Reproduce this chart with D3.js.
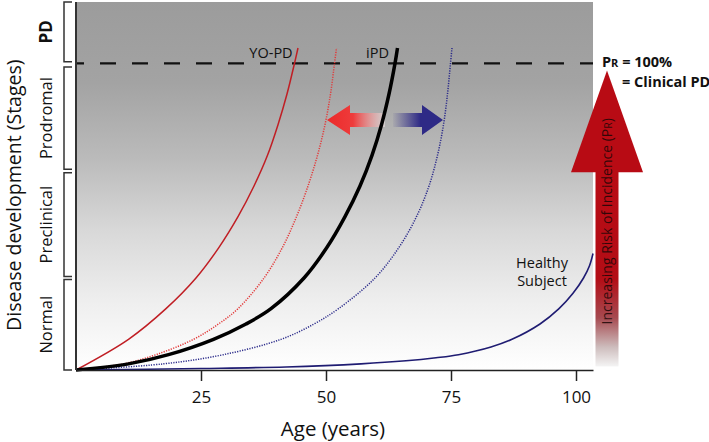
<!DOCTYPE html>
<html>
<head>
<meta charset="utf-8">
<script src="https://cdn.jsdelivr.net/npm/d3@7"></script>
<style>
  body { margin: 0; background: #fff; }
  svg { font-family: "Open Sans", sans-serif; display: block; }
</style>
</head>
<body>
<div id="chart"></div>
<script>
// Ticks and stages
const xTicks = [25, 50, 75, 100];
const stageNames = ["PD", "Prodromal", "Preclinical", "Normal"];
const stageLo = [100.5, 65.5, 30.5, 0];
const stageHi = [120, 98.8, 64.3, 29.5];

// Curves: age (years) vs disease development (100 = clinical PD)
const yoAge = [0, 10.5, 18, 24, 28.6, 32.4, 35.6, 38.3, 40.4, 42.2, 43.7, 44.4];
const yoVal = [0, 10, 20, 30, 40, 50, 60, 70, 80, 90, 100, 105];

const yoDotAge = [0, 9.5, 16, 23.5, 28.5, 32.4, 37.6, 41.3, 44.1, 46.4, 48.3, 49.8, 50.9, 51.7, 52.1];
const yoDotVal = [0, 2, 5, 10, 15, 20, 30, 40, 50, 60, 70, 80, 90, 100, 105];

const ipdAge = [0, 10.5, 18.5, 27.5, 34, 39, 45.6, 50.2, 53.8, 56.8, 59.2, 61.1, 62.6, 63.8, 64.3];
const ipdVal = [0, 2, 5, 10, 15, 20, 30, 40, 50, 60, 70, 80, 90, 100, 105];

const lateAge = [0, 17.5, 29.5, 41, 47.6, 52.5, 59.8, 64.6, 68.1, 70.6, 72.3, 73.5, 74.3, 74.9, 75.2];
const lateVal = [0, 2, 5, 10, 15, 20, 30, 40, 50, 60, 70, 80, 90, 100, 105];

const healthyAge = [0, 25, 42, 57, 66, 72, 76.5, 83, 87.2, 92.8, 96.6, 99.4, 101.5, 102.7, 103.4];
const healthyVal = [0, 0.5, 1, 2, 3, 4, 5, 7.5, 10, 15, 20, 25, 30, 34, 38];

const svg = d3.select("#chart").append("svg")
  .attr("width", 709)
  .attr("height", 442);

const x = d3.scaleLinear().domain([0, 103.4]).range([76, 593]);
const y = d3.scaleLinear().domain([0, 120]).range([370, 2]);

const defs = svg.append("defs");

// background gradient, dark gray at top to white at the bottom
const bg = defs.append("linearGradient").attr("id", "bg")
  .attr("x1", 0).attr("y1", 0).attr("x2", 0).attr("y2", 1);
[[0, "#9c9c9c"], [0.22, "#a3a3a3"], [0.42, "#bababa"], [0.62, "#d8d8d8"], [0.82, "#efefef"], [1, "#ffffff"]]
  .forEach(s => bg.append("stop").attr("offset", s[0]).attr("stop-color", s[1]));

const redGrad = defs.append("linearGradient").attr("id", "redGrad")
  .attr("x1", 0).attr("y1", 0).attr("x2", 1).attr("y2", 0);
redGrad.append("stop").attr("offset", 0).attr("stop-color", "#ec2a2a");
redGrad.append("stop").attr("offset", 0.45).attr("stop-color", "#ee3b3b");
redGrad.append("stop").attr("offset", 1).attr("stop-color", "#e8e0e0").attr("stop-opacity", 0.6);

const blueGrad = defs.append("linearGradient").attr("id", "blueGrad")
  .attr("x1", 0).attr("y1", 0).attr("x2", 1).attr("y2", 0);
blueGrad.append("stop").attr("offset", 0).attr("stop-color", "#2e2a86").attr("stop-opacity", 0.05);
blueGrad.append("stop").attr("offset", 0.55).attr("stop-color", "#2e2a86");
blueGrad.append("stop").attr("offset", 1).attr("stop-color", "#2e2a86");

const bigGrad = defs.append("linearGradient").attr("id", "bigGrad")
  .attr("x1", 0).attr("y1", 0).attr("x2", 0).attr("y2", 1);
[[0, "#b80b14"], [0.55, "#b30d16"], [0.75, "#a64a50"], [0.9, "#cdbcbc"], [1, "#f4f4f4"]]
  .forEach(s => bigGrad.append("stop").attr("offset", s[0]).attr("stop-color", s[1]));

// Plot background
svg.append("rect")
  .attr("x", x(0)).attr("y", y(120))
  .attr("width", x(103.4) - x(0)).attr("height", y(0) - y(120))
  .attr("fill", "url(#bg)");

// Stage brackets
stageNames.forEach((name, i) => {
  const y0 = y(stageLo[i]), y1 = y(stageHi[i]);
  svg.append("path")
    .attr("d", `M72,${y1}H64V${y0}H72`)
    .attr("fill", "none")
    .attr("stroke", "#333")
    .attr("stroke-width", 1.5);
  svg.append("text")
    .attr("transform", `translate(52,${(y0 + y1) / 2}) rotate(-90)`)
    .attr("text-anchor", "middle")
    .attr("font-size", i === 0 ? 17 : 16.5)
    .attr("font-weight", i === 0 ? "bold" : "normal")
    .attr("fill", "#111")
    .text(name);
});

// Y axis label
svg.append("text")
  .attr("transform", `translate(21,${y(57)}) rotate(-90)`)
  .attr("text-anchor", "middle")
  .attr("font-size", 19.5)
  .attr("fill", "#111")
  .text("Disease development (Stages)");

// Clinical threshold (dashed)
svg.append("line")
  .attr("x1", x(0)).attr("x2", x(103.4))
  .attr("y1", y(100)).attr("y2", y(100))
  .attr("stroke", "#111")
  .attr("stroke-width", 2.2)
  .attr("stroke-dasharray", "16,16")
  .attr("stroke-dashoffset", 8);

// Shift arrows (red to earlier onset, blue to later onset)
function hArrow(tip, base, tail, v, fill) {
  const yc = y(v), hh = 15, sh = 7;
  const xt = x(tip), xb = x(base), xe = x(tail);
  const pts = [[xt, yc], [xb, yc - hh], [xb, yc - sh], [xe, yc - sh],
               [xe, yc + sh], [xb, yc + sh], [xb, yc + hh]];
  svg.append("path")
    .attr("d", d3.line()(pts) + "Z")
    .attr("fill", fill);
}
hArrow(50.2, 54.8, 61.8, 81.5, "url(#redGrad)");
hArrow(73.4, 69.2, 63.4, 81.5, "url(#blueGrad)");

// Curves
const line = d3.line().x(d => x(d[0])).y(d => y(d[1])).curve(d3.curveCatmullRom.alpha(0.5));
const zip = (a, b) => a.map((v, i) => [v, b[i]]);

svg.append("path").datum(zip(healthyAge, healthyVal))
  .attr("d", line).attr("fill", "none")
  .attr("stroke", "#1f1c72").attr("stroke-width", 1.6);

svg.append("path").datum(zip(lateAge, lateVal))
  .attr("d", line).attr("fill", "none")
  .attr("stroke", "#2a2a8a").attr("stroke-width", 1.5)
  .attr("stroke-dasharray", "1.2,1.3");

svg.append("path").datum(zip(yoDotAge, yoDotVal))
  .attr("d", line).attr("fill", "none")
  .attr("stroke", "#e23a3a").attr("stroke-width", 1.5)
  .attr("stroke-dasharray", "1.2,1.3");

svg.append("path").datum(zip(yoAge, yoVal))
  .attr("d", line).attr("fill", "none")
  .attr("stroke", "#c01e24").attr("stroke-width", 1.5);

svg.append("path").datum(zip(ipdAge, ipdVal))
  .attr("d", line).attr("fill", "none")
  .attr("stroke", "#000").attr("stroke-width", 3.5);

// Axes
svg.append("line")
  .attr("x1", x(0)).attr("x2", x(0))
  .attr("y1", y(120)).attr("y2", y(0))
  .attr("stroke", "#333").attr("stroke-width", 2);

const xAxis = svg.append("g")
  .attr("transform", `translate(0,${y(0)})`)
  .call(d3.axisBottom(x).tickValues(xTicks).tickSize(11).tickPadding(10).tickSizeOuter(0));
xAxis.select(".domain").attr("stroke", "#222").attr("stroke-width", 1.6);
xAxis.selectAll(".tick line").attr("stroke", "#222").attr("stroke-width", 1.5);
xAxis.selectAll(".tick text")
  .attr("font-size", 17)
  .attr("font-family", "Open Sans, sans-serif")
  .attr("fill", "#111");

svg.append("text")
  .attr("x", x(51.4)).attr("y", 436)
  .attr("text-anchor", "middle")
  .attr("font-size", 20.5)
  .attr("fill", "#111")
  .text("Age (years)");

// Curve labels
svg.append("text").attr("x", x(39)).attr("y", y(101.7))
  .attr("text-anchor", "middle").attr("font-size", 14.5).attr("fill", "#111")
  .text("YO-PD");
svg.append("text").attr("x", x(60.3)).attr("y", y(101.7))
  .attr("text-anchor", "middle").attr("font-size", 14.5).attr("fill", "#111")
  .text("iPD");
svg.append("text").attr("x", x(93.2)).attr("y", y(33.3))
  .attr("text-anchor", "middle").attr("font-size", 14.5).attr("fill", "#111")
  .text("Healthy");
svg.append("text").attr("x", x(93.2)).attr("y", y(27.4))
  .attr("text-anchor", "middle").attr("font-size", 14.5).attr("fill", "#111")
  .text("Subject");

// Big arrow: increasing risk of incidence
const ax = x(106.2), headW = 36, shaftW = 11.5;
const yTip = y(97.7), yBase = y(64.5), yEnd = y(1);
svg.append("path")
  .attr("d", `M${ax},${yTip}L${ax + headW},${yBase}L${ax - headW},${yBase}Z`)
  .attr("fill", "#b80b14");
svg.append("rect")
  .attr("x", ax - shaftW).attr("y", yBase - 0.5)
  .attr("width", shaftW * 2).attr("height", yEnd - yBase)
  .attr("fill", "url(#bigGrad)");

const riskText = svg.append("text")
  .attr("transform", `translate(${ax + 5},${y(48.5)}) rotate(-90)`)
  .attr("text-anchor", "middle")
  .attr("font-size", 14)
  .attr("fill", "#1a0606")
  .attr("fill-opacity", 0.85);
riskText.append("tspan").text("Increasing Risk of Incidence (P");
riskText.append("tspan").attr("font-size", 10.5).text("R");
riskText.append("tspan").text(")");

const pr = svg.append("text")
  .attr("x", x(105.2)).attr("y", y(98.8))
  .attr("font-size", 14.5).attr("font-weight", "bold").attr("fill", "#111");
pr.append("tspan").text("P");
pr.append("tspan").attr("font-size", 11).text("R");
pr.append("tspan").text(" = 100%");

svg.append("text")
  .attr("x", x(109.2)).attr("y", y(92.3))
  .attr("font-size", 14.5).attr("font-weight", "bold").attr("fill", "#111")
  .text("= Clinical PD");
</script>
</body>
</html>
